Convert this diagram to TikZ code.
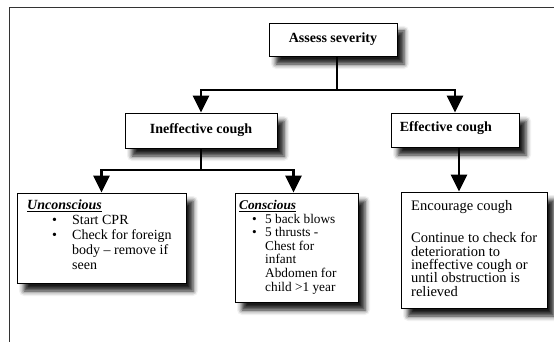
\documentclass[tikz,border=0pt]{standalone}
\usepackage{fontspec}
\setmainfont{Liberation Serif}
\usetikzlibrary{arrows.meta,shadows.blur}
\begin{document}
\begin{tikzpicture}[x=1pt,y=-1pt,
  box/.style={draw=black,line width=0.9pt,fill=white,inner sep=0pt,
    blur shadow={shadow xshift=7pt,shadow yshift=-8pt,shadow blur radius=5pt,shadow opacity=90}},
  conn/.style={line width=2.9pt,black},
  arr/.style={conn,-{Triangle[width=16pt,length=17pt]}},
  head/.style={font=\fontsize{14}{16}\selectfont\bfseries,inner sep=0pt},
  body/.style={anchor=north west,align=left,inner sep=0pt},
  frame/.style={line width=1pt,black!80}]
\useasboundingbox (0,0) rectangle (554,342);
% frame
\coordinate (fbl) at (9,342);
\coordinate (ftl) at (9,8);
\coordinate (ftr) at (554,8);
\draw[frame] (fbl) -- (ftl) -- (ftr);
% boxes
\node[box,minimum width=128pt,minimum height=33pt] (assess) at (333,39.5) {};
\node[box,minimum width=152pt,minimum height=35pt] (ineff) at (201,130.5) {};
\node[box,minimum width=128pt,minimum height=34pt] (eff) at (455,130) {};
\node[box,minimum width=169pt,minimum height=90pt] (uncon) at (101.5,238) {};
\node[box,minimum width=123pt,minimum height=109pt] (consc) at (296.5,247.5) {};
\node[box,minimum width=146pt,minimum height=116pt] (encour) at (474,250) {};
% texts
\node[head] (assesst) at (assess.center) {Assess severity};
\node[head] (innefft) at (ineff.center) {Ineffective cough};
\node[head,anchor=west] (efft) at ([xshift=9pt,yshift=2pt]eff.west) {Effective cough};
\node[body,font=\fontsize{14}{14.8}\selectfont] (uncont) at (27,200)
  {\underline{\textbf{\textit{Unconscious}}}\\
   \hspace*{25pt}\makebox[20pt][l]{\textbullet}Start CPR\\
   \hspace*{25pt}\makebox[20pt][l]{\textbullet}Check for foreign\\
   \hspace*{45pt}body -- remove if\\
   \hspace*{45pt}seen};
\node[body,font=\fontsize{13.3}{13.6}\selectfont] (consct) at (239,200)
  {\underline{\textbf{\textit{Conscious}}}\\
   \hspace*{13pt}\makebox[13pt][l]{\textbullet}5 back blows\\
   \hspace*{13pt}\makebox[13pt][l]{\textbullet}5 thrusts -\\
   \hspace*{26pt}Chest for\\
   \hspace*{26pt}infant\\
   \hspace*{26pt}Abdomen for\\
   \hspace*{26pt}child >1 year};
\node[body,font=\fontsize{14.5}{13.4}\selectfont] (encourt) at (411,200)
  {Encourage cough\\[19pt]
   Continue to check for\\
   deterioration to\\
   ineffective cough or\\
   until obstruction is\\
   relieved};
% connectors
\coordinate (j1) at (337,90);
\coordinate (j2) at (201,170);
\draw[conn] (assess.south -| j1) -- (j1);
\draw[arr] (j1) -| (ineff.north);
\draw[arr] (j1) -| (eff.north);
\draw[conn] (ineff.south) -- (j2);
\draw[arr] (j2) -| (uncon.north);
\draw[arr] (j2) -| ([xshift=-3pt]consc.north);
\draw[arr] ([xshift=4pt]eff.south) -- ([xshift=4pt]eff.south |- encour.north);
\end{tikzpicture}
\end{document}
